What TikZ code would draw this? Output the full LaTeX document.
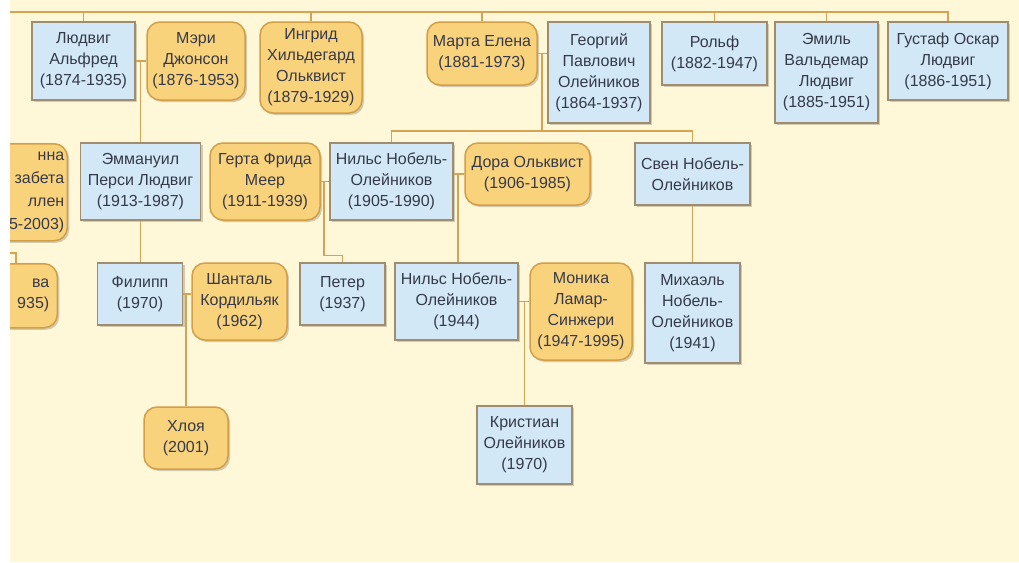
\documentclass[tikz,border=0pt]{standalone}
\usepackage{fontspec}
\setmainfont{Liberation Sans}
\usetikzlibrary{shadows}
\definecolor{bgcream}{HTML}{FFF8D8}
\definecolor{bfill}{HTML}{D2E8F6}
\definecolor{bbord}{HTML}{A08C6E}
\definecolor{ofill}{HTML}{F9D27C}
\definecolor{obord}{HTML}{D39E48}
\definecolor{lnk}{HTML}{D6A253}
\definecolor{txt}{HTML}{363A4A}
\tikzset{
  person/.style={inner sep=0pt, align=center, text=txt, line width=1.5pt,
    font=\fontsize{16}{21}\selectfont,
    drop shadow={shadow xshift=2pt, shadow yshift=-2pt, opacity=0.18, fill=black}},
  pbox/.style={person, rectangle, draw=bbord, fill=bfill},
  obox/.style={person, rectangle, rounded corners=13pt, draw=obord, fill=ofill},
  link/.style={draw=lnk, line width=1.6pt}
}
\begin{document}
\begin{tikzpicture}[x=1pt, y=-1pt]
\useasboundingbox (0,0) rectangle (1019,562);
\fill[white] (0,0) rectangle (1019,562);
\fill[bgcream] (10,0) rectangle (1019,562);
\begin{scope}
\clip (10,0) rectangle (1019,562);
% generation 1
\node[pbox, minimum width=103pt, minimum height=78pt] (lud) at (83.5,61) {Людвиг\\Альфред\\(1874-1935)};
\node[obox, minimum width=98pt, minimum height=78pt] (mary) at (196,61) {Мэри\\Джонсон\\(1876-1953)};
\node[obox, minimum width=102pt, minimum height=91pt] (ingr) at (311,67.5) {Ингрид\\Хильдегард\\Ольквист\\(1879-1929)};
\node[obox, minimum width=110pt, minimum height=63pt] (marta) at (482,53.5) {Марта Елена\\(1881-1973)};
\node[pbox, minimum width=102pt, minimum height=101pt] (georg) at (599,72.5) {Георгий\\Павлович\\Олейников\\(1864-1937)};
\node[pbox, minimum width=105pt, minimum height=63pt] (rolf) at (714.5,53.5) {Рольф\\(1882-1947)};
\node[pbox, minimum width=103pt, minimum height=101pt] (emil) at (826.5,72.5) {Эмиль\\Вальдемар\\Людвиг\\(1885-1951)};
\node[pbox, minimum width=120pt, minimum height=78pt] (gust) at (948,61) {Густаф Оскар\\Людвиг\\(1886-1951)};
% generation 2
\node[obox, minimum width=104pt, minimum height=97pt, anchor=north east, text width=98pt, align=right, font=\fontsize{16}{23}\selectfont] (anna) at (68,143) {нна\hspace*{28pt}\\забета\hspace*{10pt}\\ллен\hspace*{18pt}\\5-2003)};
\node[pbox, minimum width=120pt, minimum height=77pt] (emm) at (140.5,181.5) {Эммануил\\Перси Людвиг\\(1913-1987)};
\node[obox, minimum width=110pt, minimum height=77pt] (gerta) at (265,181.5) {Герта Фрида\\Меер\\(1911-1939)};
\node[pbox, minimum width=123pt, minimum height=77pt] (nils1) at (391.5,181.5) {Нильс Нобель-\\Олейников\\(1905-1990)};
\node[obox, minimum width=125pt, minimum height=62pt] (dora) at (527.5,174) {Дора Ольквист\\(1906-1985)};
\node[pbox, minimum width=115pt, minimum height=62pt] (sven) at (692.5,174) {Свен Нобель-\\Олейников};
% generation 3
\node[obox, minimum width=88pt, minimum height=64pt, anchor=north east, text width=72pt, align=right] (eva) at (58,263) {ва\hspace*{14pt}\\935)};
\node[pbox, minimum width=85pt, minimum height=62pt] (fil) at (140,294) {Филипп\\(1970)};
\node[obox, minimum width=95pt, minimum height=77pt] (shant) at (239.5,301.5) {Шанталь\\Кордильяк\\(1962)};
\node[pbox, minimum width=85pt, minimum height=62pt] (peter) at (342.5,294) {Петер\\(1937)};
\node[pbox, minimum width=123pt, minimum height=77pt] (nils2) at (456.5,301.5) {Нильс Нобель-\\Олейников\\(1944)};
\node[obox, minimum width=102pt, minimum height=97pt] (monika) at (581,311.5) {Моника\\Ламар-\\Синжери\\(1947-1995)};
\node[pbox, minimum width=95pt, minimum height=100pt] (mikh) at (692.5,313) {Михаэль\\Нобель-\\Олейников\\(1941)};
% generation 4
\node[obox, minimum width=84pt, minimum height=62pt] (chloe) at (186,438) {Хлоя\\(2001)};
\node[pbox, minimum width=95pt, minimum height=78pt] (krist) at (524.5,445) {Кристиан\\Олейников\\(1970)};
% junctions
\coordinate (topL) at (10,12);
\coordinate (lmJ) at (140.5,61);
\coordinate (mgJ) at (542,53.5);
\coordinate (kidbar) at (542,131);
\coordinate (gnJ) at (324,181.5);
\coordinate (ndJ) at (458,174);
\coordinate (fsJ) at (186,294);
\coordinate (nmJ) at (524.5,301.5);
\coordinate (aeL) at (10,253);
\coordinate (aeT) at (16,263);
% connectors
\path[link] (topL) -| (gust.north);
\path[link] (lud.north) -- (lud.north |- topL);
\path[link] (ingr.north) -- (ingr.north |- topL);
\path[link] (marta.north) -- (marta.north |- topL);
\path[link] (rolf.north) -- (rolf.north |- topL);
\path[link] (emil.north) -- (emil.north |- topL);
\path[link] (lud.east) -- (mary.west);
\path[link] (lmJ) -- (lmJ |- emm.north);
\path[link] (emm.south) -- (emm.south |- fil.north);
\path[link] (marta.east) -- (marta.east -| georg.west);
\path[link] (mgJ) -- (kidbar);
\path[link] (nils1.north) |- (kidbar) -| (sven.north);
\path[link] (gerta.east) -- (nils1.west);
\path[link] (gnJ) -- ++(0,74) -| (peter.north);
\path[link] (dora.west) -- (dora.west -| nils1.east);
\path[link] (ndJ) -- (ndJ |- nils2.north);
\path[link] (sven.south) -- (mikh.north);
\path[link] (fil.east) -- (fil.east -| shant.west);
\path[link] (fsJ) -- (fsJ |- chloe.north);
\path[link] (nils2.east) -- (nils2.east -| monika.west);
\path[link] (nmJ) -- (krist.north);
\path[link] (aeL) -| (aeT);
\end{scope}
\end{tikzpicture}
\end{document}
